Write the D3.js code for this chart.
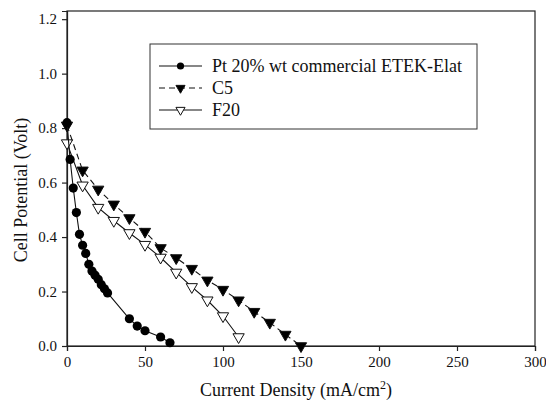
<!DOCTYPE html>
<html>
<head>
<meta charset="utf-8">
<script src="https://cdn.jsdelivr.net/npm/d3@7"></script>
<style>
  body { margin: 0; background: #fff; }
</style>
</head>
<body>
<svg id="chart" width="546" height="400"></svg>
<script>
// series: current density (mA/cm2) and cell potential (V)
const ptX = [0, 2, 4, 6, 8, 10, 12, 14, 16, 18, 20, 22, 24, 26, 40, 45, 50, 60, 66];
const ptY = [0.82, 0.685, 0.58, 0.49, 0.41, 0.37, 0.34, 0.30, 0.275, 0.26, 0.245, 0.225, 0.21, 0.195, 0.10, 0.073, 0.056, 0.033, 0.012];

const c5X = [0, 10, 20, 30, 40, 50, 60, 70, 80, 90, 100, 110, 120, 130, 140, 150];
const c5Y = [0.81, 0.645, 0.575, 0.52, 0.47, 0.42, 0.36, 0.323, 0.284, 0.241, 0.207, 0.168, 0.126, 0.086, 0.042, 0.0];

const f20X = [0, 10, 20, 30, 40, 50, 60, 70, 80, 90, 100, 110];
const f20Y = [0.745, 0.59, 0.508, 0.46, 0.415, 0.372, 0.325, 0.27, 0.217, 0.168, 0.11, 0.033];

const xTicks = [0, 50, 100, 150, 200, 250, 300];
const yTicks = [0.0, 0.2, 0.4, 0.6, 0.8, 1.0, 1.2];
const legendLabels = ["Pt 20% wt commercial ETEK-Elat", "C5", "F20"];

const serif = "Liberation Serif";
const svg = d3.select("#chart");
const plotLeft = 67, plotRight = 535, plotTop = 11, plotBottom = 346;

const xScale = d3.scaleLinear().domain([0, 300]).range([plotLeft, plotRight]);
const yScale = d3.scaleLinear().domain([0, 1.23]).range([plotBottom, plotTop]);

// frame
svg.append("rect")
  .attr("x", plotLeft).attr("y", plotTop)
  .attr("width", plotRight - plotLeft).attr("height", plotBottom - plotTop)
  .attr("fill", "none").attr("stroke", "#222").attr("stroke-width", 1.2);

// axes
const xAxis = svg.append("g")
  .attr("transform", `translate(0,${plotBottom})`)
  .call(d3.axisBottom(xScale).tickValues(xTicks).tickSize(5).tickPadding(5).tickFormat(d3.format("d")));
const yAxis = svg.append("g")
  .attr("transform", `translate(${plotLeft},0)`)
  .call(d3.axisLeft(yScale).tickValues(yTicks).tickSize(5).tickPadding(5).tickFormat(d3.format(".1f")));

for (let ax of [xAxis, yAxis]) {
  ax.attr("font-family", serif).attr("font-size", 15);
  ax.select(".domain").attr("stroke", "#222").attr("stroke-width", 1.2);
  ax.selectAll(".tick line").attr("stroke", "#222").attr("stroke-width", 1.2);
  ax.selectAll(".tick text").attr("fill", "#111");
}

// axis titles
svg.append("text")
  .attr("x", 296).attr("y", 396)
  .attr("text-anchor", "middle").attr("fill", "#111")
  .attr("font-family", serif).attr("font-size", 18)
  .html('Current Density (mA/cm<tspan dy="-7" font-size="12">2</tspan><tspan dy="7">)</tspan>');

svg.append("text")
  .attr("transform", "translate(27,190) rotate(-90)")
  .attr("text-anchor", "middle").attr("fill", "#111")
  .attr("font-family", serif).attr("font-size", 18)
  .text("Cell Potential (Volt)");

const line = d3.line()
  .x(d => xScale(d[0]))
  .y(d => yScale(d[1]));

const triDown = d3.symbol().type(d3.symbolTriangle).size(55);

function drawSeries(xs, ys, dashed, marker) {
  let pts = xs.map((x, i) => [x, ys[i]]);
  svg.append("path")
    .attr("d", line(pts))
    .attr("fill", "none")
    .attr("stroke", "#111")
    .attr("stroke-width", 1.1)
    .attr("stroke-dasharray", dashed ? "6,4" : null);
  let g = svg.append("g");
  if (marker === "circle") {
    g.selectAll("circle").data(pts).join("circle")
      .attr("cx", d => xScale(d[0])).attr("cy", d => yScale(d[1]))
      .attr("r", 4.6).attr("fill", "#000");
  } else {
    g.selectAll("path").data(pts).join("path")
      .attr("d", triDown)
      .attr("transform", d => `translate(${xScale(d[0])},${yScale(d[1])}) rotate(180)`)
      .attr("fill", marker === "filled" ? "#000" : "#fff")
      .attr("stroke", "#111").attr("stroke-width", 1);
  }
}

drawSeries(f20X, f20Y, false, "open");
drawSeries(c5X, c5Y, true, "filled");
drawSeries(ptX, ptY, false, "circle");

// legend
const legend = svg.append("g");
legend.append("rect")
  .attr("x", 150).attr("y", 44).attr("width", 327).attr("height", 85)
  .attr("fill", "#fff").attr("stroke", "#333").attr("stroke-width", 1);

const rowY = [66, 88, 110];
const markers = ["circle", "filled", "open"];
legendLabels.forEach((label, i) => {
  let y = rowY[i];
  legend.append("line")
    .attr("x1", 159).attr("x2", 202).attr("y1", y).attr("y2", y)
    .attr("stroke", "#111").attr("stroke-width", 1.1)
    .attr("stroke-dasharray", i === 1 ? "6,4" : null);
  if (markers[i] === "circle") {
    legend.append("circle").attr("cx", 180.5).attr("cy", y).attr("r", 3.6).attr("fill", "#000");
  } else {
    legend.append("path")
      .attr("d", d3.symbol().type(d3.symbolTriangle).size(36)())
      .attr("transform", `translate(180.5,${y}) rotate(180)`)
      .attr("fill", markers[i] === "filled" ? "#000" : "#fff")
      .attr("stroke", "#111").attr("stroke-width", 1);
  }
  legend.append("text")
    .attr("x", 212).attr("y", y + 6)
    .attr("fill", "#111")
    .attr("font-family", serif).attr("font-size", 18)
    .text(label);
});
</script>
</body>
</html>
